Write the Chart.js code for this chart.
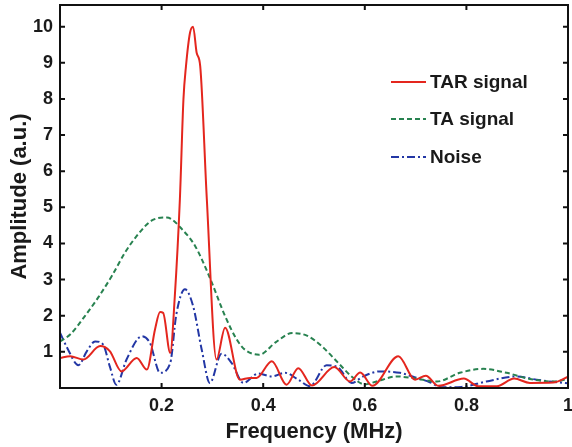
<!DOCTYPE html>
<html>
<head>
<meta charset="utf-8">
<script src="https://cdn.jsdelivr.net/npm/chart.js@4/dist/chart.umd.min.js"></script>
<style>
  html, body { margin: 0; padding: 0; background: #fff; }
  #wrap { width: 572px; height: 447px; }
</style>
</head>
<body>
<div id="wrap"><canvas id="spectrumChart" width="572" height="447"></canvas></div>
<script>
// values
const tarFreq = [0, 0.02, 0.046, 0.079, 0.098, 0.121, 0.151, 0.171, 0.187, 0.197, 0.203, 0.217, 0.226, 0.236, 0.243, 0.248, 0.256, 0.262, 0.269, 0.276, 0.289, 0.308, 0.325, 0.354, 0.374, 0.387, 0.417, 0.446, 0.469, 0.496, 0.54, 0.571, 0.591, 0.615, 0.666, 0.699, 0.72, 0.745, 0.795, 0.823, 0.86, 0.894, 0.925, 0.971, 1.0];
const tarAmp  = [0.83, 0.88, 0.79, 1.16, 1.02, 0.46, 0.83, 0.51, 1.62, 2.1, 2.08, 0.97, 2.54, 5.23, 7.99, 8.91, 9.84, 10.0, 9.28, 8.91, 5.23, 0.79, 1.67, 0.23, 0.28, 0.28, 0.74, 0.09, 0.55, 0.07, 0.58, 0.18, 0.43, 0.06, 0.88, 0.23, 0.34, 0.06, 0.26, 0.05, 0.05, 0.26, 0.14, 0.15, 0.31];

const taFreq = [0, 0.02, 0.049, 0.075, 0.102, 0.128, 0.154, 0.18, 0.21, 0.243, 0.266, 0.295, 0.325, 0.348, 0.364, 0.392, 0.425, 0.457, 0.486, 0.515, 0.548, 0.574, 0.6, 0.623, 0.663, 0.7, 0.742, 0.787, 0.833, 0.879, 0.925, 0.971, 1.0];
const taAmp  = [1.29, 1.48, 1.99, 2.5, 3.1, 3.75, 4.26, 4.63, 4.72, 4.35, 3.93, 3.05, 1.99, 1.34, 1.06, 0.92, 1.27, 1.52, 1.45, 1.16, 0.69, 0.32, 0.1, 0.18, 0.32, 0.26, 0.18, 0.42, 0.53, 0.42, 0.25, 0.18, 0.25];

const noiseFreq = [0, 0.016, 0.036, 0.053, 0.069, 0.085, 0.098, 0.111, 0.131, 0.161, 0.177, 0.197, 0.217, 0.229, 0.246, 0.262, 0.279, 0.295, 0.318, 0.338, 0.361, 0.39, 0.417, 0.443, 0.469, 0.492, 0.525, 0.548, 0.574, 0.597, 0.63, 0.669, 0.702, 0.728, 0.75, 0.79, 0.839, 0.899, 0.938, 0.97, 1.0];
const noiseAmp  = [1.53, 1.06, 0.63, 1.02, 1.29, 1.2, 0.6, 0.09, 0.79, 1.43, 1.25, 0.42, 0.69, 2.04, 2.73, 2.27, 1.06, 0.14, 0.95, 0.69, 0.14, 0.4, 0.32, 0.42, 0.23, 0.05, 0.63, 0.56, 0.14, 0.32, 0.46, 0.42, 0.28, 0.16, 0.02, 0.03, 0.18, 0.32, 0.23, 0.17, 0.13];

const seriesNames = ["TAR signal", "TA signal", "Noise"];
const xTicks = [0.2, 0.4, 0.6, 0.8, 1];
const yTicks = [1, 2, 3, 4, 5, 6, 7, 8, 9, 10];

const FONT = "'Liberation Sans', Arial, Helvetica, sans-serif";

const toPoints = (xs, ys) => xs.map((x, i) => ({ x: x, y: ys[i] }));

// frame + inward ticks like matlab
const framePlugin = {
  id: "frame",
  afterDraw(chart) {
    const { ctx, chartArea: a, scales } = chart;
    ctx.save();
    ctx.strokeStyle = "#111";
    ctx.lineWidth = 2;
    ctx.strokeRect(a.left, a.top, a.right - a.left, a.bottom - a.top);
    const len = 5;
    ctx.beginPath();
    xTicks.forEach(v => {
      const px = scales.x.getPixelForValue(v);
      ctx.moveTo(px, a.bottom); ctx.lineTo(px, a.bottom - len);
      ctx.moveTo(px, a.top); ctx.lineTo(px, a.top + len);
    });
    yTicks.forEach(v => {
      const py = scales.y.getPixelForValue(v);
      ctx.moveTo(a.left, py); ctx.lineTo(a.left + len, py);
      ctx.moveTo(a.right, py); ctx.lineTo(a.right - len, py);
    });
    ctx.stroke();
    ctx.restore();
  }
};

// legend drawn inside the plot area
const legendPlugin = {
  id: "insideLegend",
  afterDraw(chart) {
    const { ctx } = chart;
    const rows = [82, 119, 157];
    ctx.save();
    chart.data.datasets.forEach((ds, i) => {
      const y = rows[i];
      ctx.strokeStyle = ds.borderColor;
      ctx.lineWidth = ds.borderWidth;
      ctx.setLineDash(ds.borderDash || []);
      ctx.beginPath();
      ctx.moveTo(391, y);
      ctx.lineTo(426, y);
      ctx.stroke();
      ctx.setLineDash([]);
      ctx.fillStyle = "#1a1a1a";
      ctx.font = "bold 19px " + FONT;
      ctx.textBaseline = "middle";
      ctx.textAlign = "left";
      ctx.fillText(ds.label, 430, y + 1);
    });
    ctx.restore();
  }
};

new Chart(document.getElementById("spectrumChart").getContext("2d"), {
  type: "line",
  data: {
    datasets: [
      {
        label: seriesNames[0],
        data: toPoints(tarFreq, tarAmp),
        borderColor: "rgb(228, 38, 30)",
        borderWidth: 2,
        pointRadius: 0,
        cubicInterpolationMode: "monotone"
      },
      {
        label: seriesNames[1],
        data: toPoints(taFreq, taAmp),
        borderColor: "rgb(40, 130, 80)",
        borderWidth: 2,
        borderDash: [5, 3],
        pointRadius: 0,
        cubicInterpolationMode: "monotone"
      },
      {
        label: seriesNames[2],
        data: toPoints(noiseFreq, noiseAmp),
        borderColor: "rgb(35, 55, 165)",
        borderWidth: 2,
        borderDash: [8, 3, 2, 3],
        pointRadius: 0,
        cubicInterpolationMode: "monotone"
      }
    ]
  },
  options: {
    responsive: false,
    animation: false,
    layout: { padding: { top: 5, right: 4, left: 0, bottom: 0 } },
    plugins: {
      legend: { display: false },
      tooltip: { enabled: false }
    },
    scales: {
      x: {
        type: "linear",
        min: 0,
        max: 1,
        afterBuildTicks: s => { s.ticks = xTicks.map(v => ({ value: v })); },
        afterFit: s => {
          s.height = 59;
          s.paddingLeft = 0;
          s.paddingRight = 0;
        },
        grid: { display: false, drawTicks: false },
        border: { display: false },
        ticks: {
          padding: 7,
          color: "#1a1a1a",
          font: { family: FONT, size: 18, weight: "bold" },
          callback: v => String(v)
        },
        title: {
          display: true,
          text: "Frequency (MHz)",
          color: "#1a1a1a",
          font: { family: FONT, size: 22, weight: "bold" },
          padding: { top: 0, bottom: 2 }
        }
      },
      y: {
        type: "linear",
        min: 0,
        max: 10.6,
        afterBuildTicks: s => { s.ticks = yTicks.map(v => ({ value: v })); },
        afterFit: s => {
          s.width = 60;
          s.paddingTop = 0;
          s.paddingBottom = 0;
        },
        grid: { display: false, drawTicks: false },
        border: { display: false },
        ticks: {
          padding: 7,
          color: "#1a1a1a",
          font: { family: FONT, size: 18, weight: "bold" },
          callback: v => String(v)
        },
        title: {
          display: true,
          text: "Amplitude (a.u.)",
          color: "#1a1a1a",
          font: { family: FONT, size: 22, weight: "bold" },
          padding: { top: 7, bottom: 0 }
        }
      }
    }
  },
  plugins: [framePlugin, legendPlugin]
});
</script>
</body>
</html>
